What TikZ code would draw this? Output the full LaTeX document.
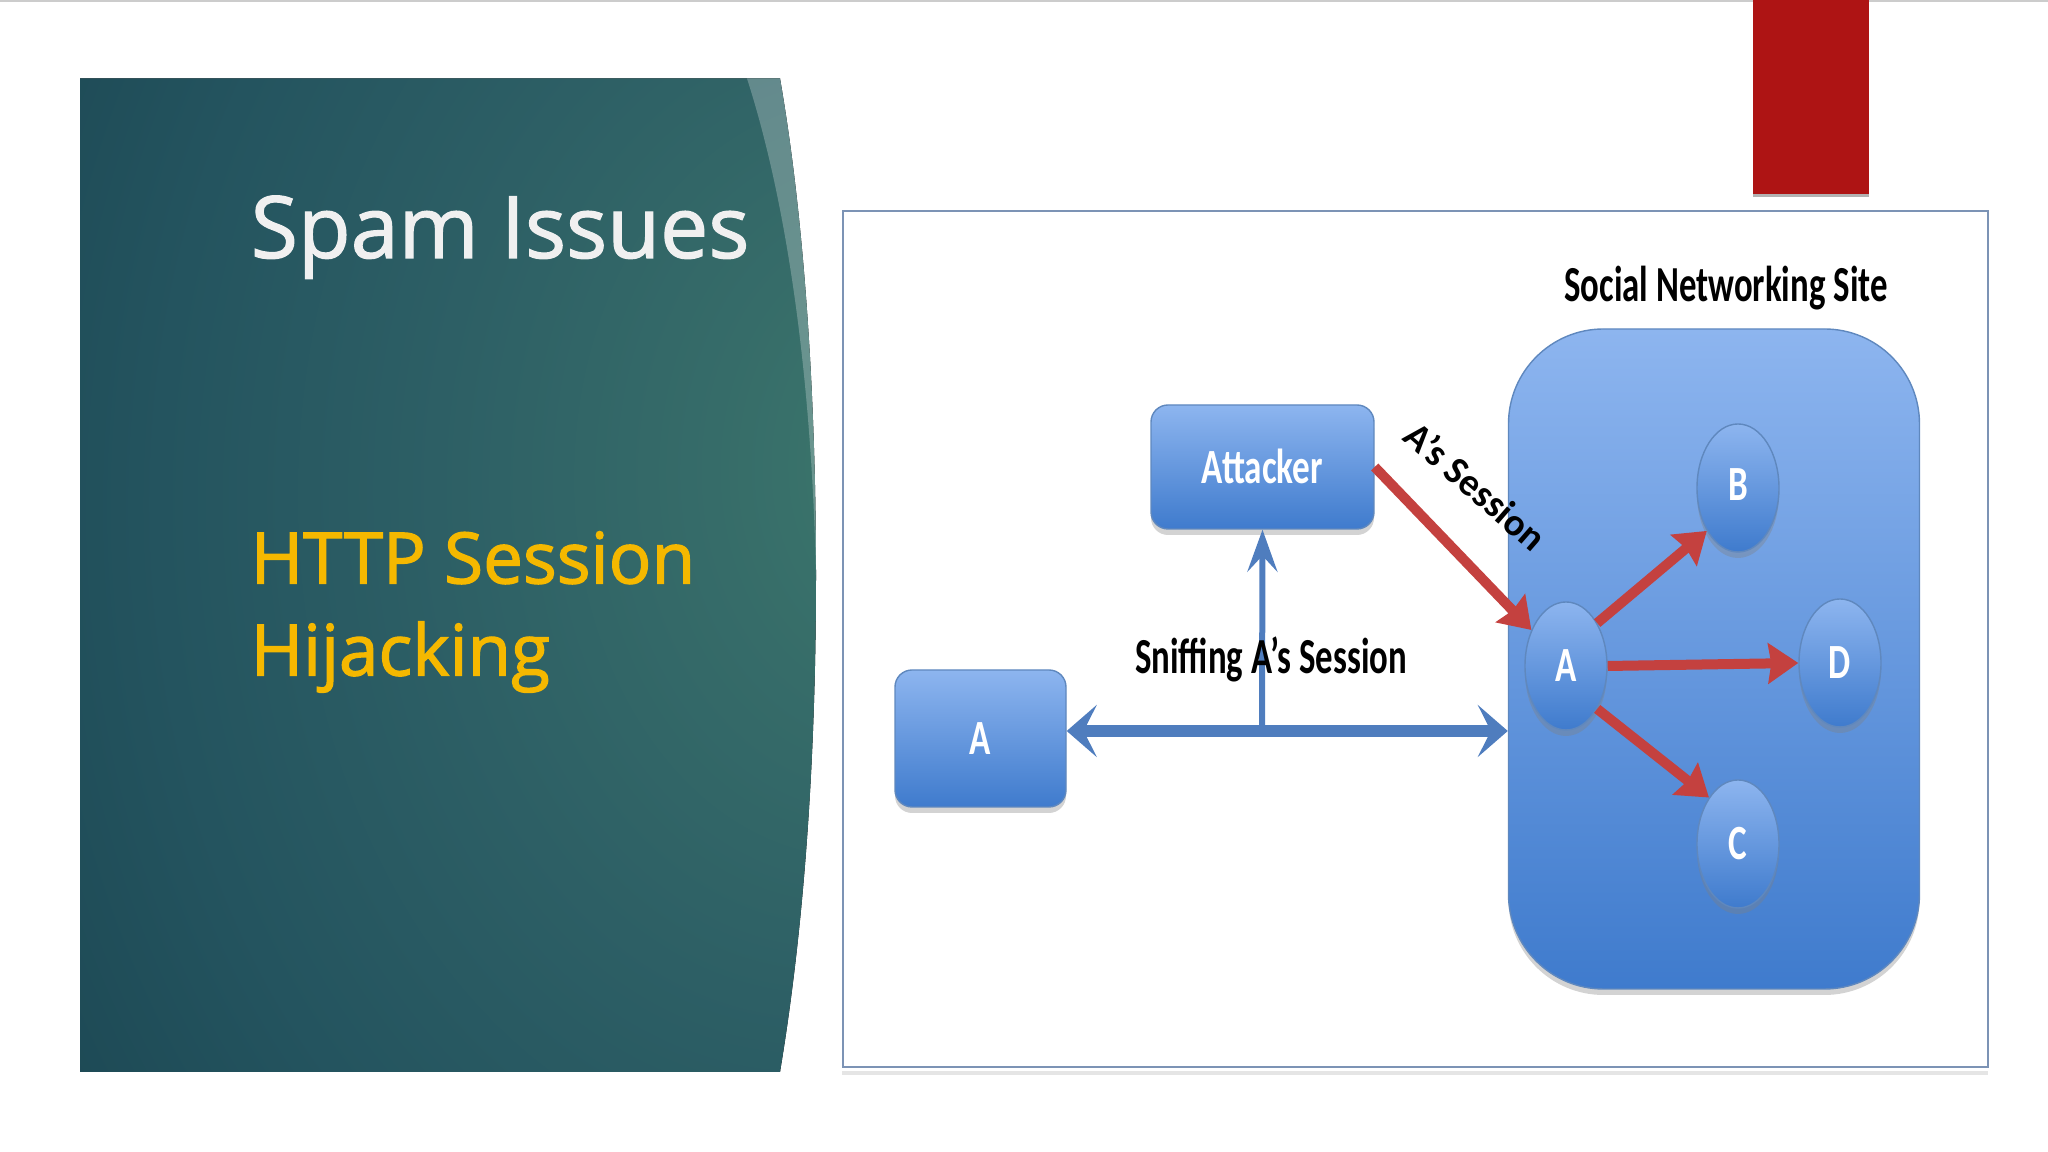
\documentclass[tikz,border=0pt]{standalone}
\usepackage{fontspec}
\setmainfont{Open Sans}
\newfontfamily\labelfont{Carlito}
\usetikzlibrary{arrows.meta,shapes.geometric,shadows}

\newcommand{\heavytext}[1]{\special{pdf:code 2 Tr 0.35 w}#1\special{pdf:code 0 Tr}}

\definecolor{bluetop}{HTML}{8DB5EF}
\definecolor{bluebottom}{HTML}{3F7BCD}
\definecolor{blueedge}{HTML}{5F88BE}
\definecolor{frameedge}{HTML}{7C93B5}
\definecolor{bluearrowcol}{HTML}{4F7DBE}
\definecolor{redarrowcol}{HTML}{C4413F}
\definecolor{panela}{HTML}{3D7A6C}
\definecolor{panelb}{HTML}{366C69}
\definecolor{panelc}{HTML}{2D5F65}
\definecolor{paneld}{HTML}{24545F}
\definecolor{panele}{HTML}{1B4652}

\pgfdeclareradialshading{panelglow}{\pgfpoint{34bp}{6bp}}{color(0bp)=(panela); color(12bp)=(panelb); color(26bp)=(panelc); color(40bp)=(paneld); color(55bp)=(panele); color(100bp)=(panele)}

\tikzset{
	shinybox/.style={draw=blueedge,line width=0.4pt,top color=bluetop,bottom color=bluebottom,drop shadow={shadow xshift=0cm,shadow yshift=-0.06cm,opacity=0.35}},
	userbox/.style={shinybox,rounded corners=0.17cm,inner sep=0pt},
	userdot/.style={shinybox,ellipse,minimum width=0.82cm,minimum height=1.28cm,inner sep=0pt},
	whitetext/.style={text=white,font=\labelfont\bfseries\fontsize{10}{12}\selectfont,yscale=1.4,transform shape},
	blacktext/.style={text=black,font=\labelfont\bfseries\fontsize{9.9}{11}\selectfont,yscale=1.45,transform shape},
	bluearrow/.style={draw=bluearrowcol,line width=0.115cm,{Stealth[length=0.3cm,width=0.52cm,inset=0.13cm]}-{Stealth[length=0.3cm,width=0.52cm,inset=0.13cm]}},
	sniffarrow/.style={draw=bluearrowcol,line width=0.06cm,-{Stealth[length=0.42cm,width=0.3cm,inset=0.16cm]}},
	redarrow/.style={draw=redarrowcol,line width=0.1cm,-{Stealth[length=0.3cm,width=0.4cm,inset=0.03cm]}}
}

\begin{document}
\begin{tikzpicture}
	\useasboundingbox (0,0) rectangle (20.48,11.52);
	\draw[black!20,line width=1pt] (0,11.52) -- (20.48,11.52);

	% left panel
	\fill[shading=panelglow] (0.80,10.735) -- (7.80,10.735) .. controls (8.05,9.3) and (8.16,7.5) .. (8.16,5.77) .. controls (8.16,4.0) and (8.05,2.3) .. (7.80,0.80) -- (0.80,0.80) -- cycle;
	\fill[white,opacity=0.25] (7.47,10.735) -- (7.80,10.735) .. controls (8.05,9.3) and (8.16,7.5) .. (8.16,5.77) .. controls (8.12,7.6) and (7.9,9.4) .. (7.47,10.735) -- cycle;
	\node[anchor=base west,inner sep=0pt,text=black!6,font=\fontsize{24.5}{30}\selectfont] (title) at (2.50,8.94) {\heavytext{Spam Issues}};
	\node[anchor=west,align=left,inner sep=0pt,text={rgb,255:red,245;green,184;blue,0},font=\fontsize{20.2}{26.2}\selectfont] (topic) at (2.50,5.40) {\heavytext{HTTP Session}\\\heavytext{Hijacking}};

	% red tab
	\fill[black!30] (17.53,11.52) rectangle (18.69,9.55);
	\fill[fill={rgb,255:red,174;green,20;blue,20}] (17.53,11.52) rectangle (18.69,9.58);

	% picture frame
	\draw[black!10,line width=1.2pt] (8.42,0.79) -- (19.88,0.79);
	\draw[frameedge,line width=0.6pt] (8.43,9.41) rectangle (19.88,0.85);

	\node[userbox,minimum width=4.11cm,minimum height=6.6cm,rounded corners=0.95cm] (site) at (17.14,4.93) {};
	\node[userbox,minimum width=2.23cm,minimum height=1.24cm] (attacker) at (12.625,6.85) {};
	\node[userbox,minimum width=1.71cm,minimum height=1.37cm] (boxA) at (9.805,4.135) {};
	\node[userdot] (nodeA) at (15.66,4.86) {};
	\node[userdot] (nodeB) at (17.38,6.64) {};
	\node[userdot] (nodeC) at (17.38,3.08) {};
	\node[userdot] (nodeD) at (18.40,4.89) {};

	\node[whitetext] (attackertext) at (12.625,6.86) {Attacker};
	\node[whitetext] (boxAtext) at (9.805,4.135) {A};
	\node[whitetext] (nodeAtext) at (15.66,4.86) {A};
	\node[whitetext] (nodeBtext) at (17.38,6.67) {B};
	\node[whitetext] (nodeCtext) at (17.38,3.08) {C};
	\node[whitetext] (nodeDtext) at (18.40,4.89) {D};

	\coordinate (tap) at (12.62,4.21);
	\draw[sniffarrow] (tap) -- (attacker.south);
	\draw[bluearrow] ([yshift=0.075cm]boxA.east) -- ([yshift=0.075cm]boxA.east -| site.west);
	\draw[redarrow] (attacker.east) -- (nodeA);
	\draw[redarrow] (nodeA.54) -- (nodeB.234);
	\draw[redarrow] (nodeA.east) -- (nodeD.west);
	\draw[redarrow] (nodeA.306) -- (nodeC.122);

	\node[blacktext] (sitelabel) at (17.26,8.64) {Social Networking Site};
	\node[blacktext] (snifflabel) at (12.71,4.93) {Sniffing A’s Session};
	\node[text=black,font=\labelfont\bfseries\fontsize{11}{13}\selectfont,rotate=-41] (sessionlabel) at (14.76,6.66) {A’s Session};
\end{tikzpicture}
\end{document}
